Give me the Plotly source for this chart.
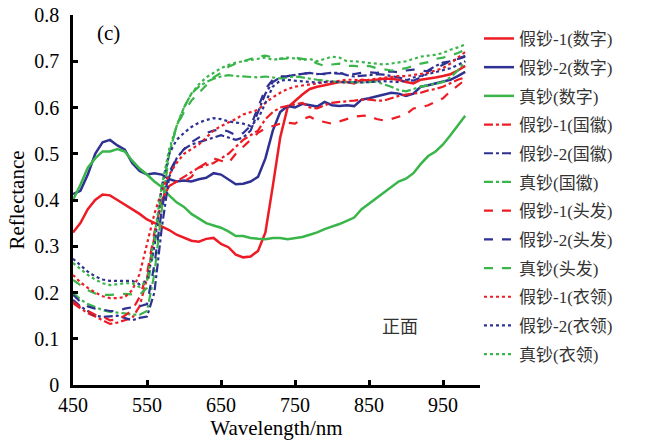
import plotly.graph_objects as go

wavelength = list(range(450, 990, 10))

fake1_digit = [.33, .35, .38, .40, .412, .41, .40, .39, .38, .37, .358, .35, .342, .335, .325, .318, .312, .31, .316, .318,
               .305, .298, .282, .276, .278, .29, .33, .43, .535, .60, .615, .628, .64, .645, .648, .652, .655, .655, .652, .66,
               .658, .66, .662, .662, .66, .655, .652, .66, .662, .665, .668, .672, .68, .69]
fake2_digit = [.413, .42, .455, .50, .525, .53, .518, .509, .48, .463, .455, .458, .455, .445, .44, .442, .44, .445, .448, .458,
               .455, .445, .434, .435, .44, .45, .49, .55, .59, .603, .60, .608, .605, .602, .612, .605, .603, .605, .603, .617,
               .62, .624, .628, .632, .63, .625, .63, .645, .648, .652, .655, .66, .668, .677]
real_digit = [.40, .433, .47, .49, .505, .505, .51, .505, .485, .468, .455, .44, .428, .41, .395, .385, .37, .36, .35, .345,
              .34, .332, .322, .322, .318, .316, .315, .318, .318, .315, .317, .32, .325, .33, .337, .342, .348, .355, .362, .38,
              .392, .405, .418, .43, .44, .446, .458, .478, .495, .505, .52, .54, .56, .582]
fake1_emblem = [.177, .165, .155, .148, .14, .132, .135, .14, .145, .17, .23, .32, .40, .43, .44, .45, .46, .47, .475, .48,
                .49, .50, .515, .53, .54, .55, .575, .59, .60, .603, .607, .61, .60, .598, .605, .61, .612, .613, .615, .617,
                .617, .615, .615, .62, .625, .628, .63, .632, .637, .64, .645, .652, .66, .665]
fake2_emblem = [.184, .17, .16, .15, .147, .148, .15, .145, .14, .145, .148, .20, .34, .45, .49, .51, .52, .525, .53, .535,
                .54, .535, .53, .535, .55, .59, .63, .655, .665, .668, .67, .672, .675, .672, .674, .675, .675, .67, .667, .668,
                .67, .672, .671, .668, .665, .66, .658, .665, .68, .69, .697, .70, .705, .71]
real_emblem = [.20, .185, .175, .168, .162, .158, .157, .155, .152, .152, .16, .24, .38, .50, .56, .60, .63, .645, .655, .662,
               .667, .67, .668, .667, .665, .665, .667, .665, .663, .665, .667, .665, .662, .66, .658, .656, .655, .655, .654, .654,
               .655, .656, .65, .645, .638, .635, .64, .645, .648, .652, .655, .665, .68, .70]
fake1_hair = [.18, .168, .16, .152, .148, .14, .142, .15, .162, .19, .24, .33, .40, .43, .44, .44, .45, .47, .48, .49,
              .485, .48, .50, .515, .53, .545, .555, .56, .565, .567, .565, .575, .58, .572, .568, .565, .57, .575, .58, .582,
              .583, .575, .572, .575, .58, .585, .598, .60, .605, .612, .62, .635, .648, .66]
fake2_hair = [.195, .18, .17, .165, .163, .16, .16, .165, .168, .17, .175, .26, .38, .46, .49, .51, .525, .535, .545, .55,
              .553, .548, .54, .545, .56, .60, .64, .66, .667, .668, .67, .672, .675, .673, .672, .674, .673, .675, .672, .675,
              .676, .675, .677, .678, .676, .68, .682, .68, .678, .685, .693, .70, .705, .712]
real_hair = [.227, .215, .205, .198, .195, .195, .196, .197, .196, .195, .21, .30, .42, .50, .56, .59, .615, .632, .65, .665,
             .675, .688, .695, .70, .705, .71, .712, .708, .705, .706, .708, .705, .703, .695, .69, .693, .695, .69, .69, .688,
             .69, .685, .682, .68, .682, .685, .69, .695, .698, .705, .708, .712, .718, .725]
fake1_collar = [.238, .222, .21, .20, .192, .188, .188, .19, .205, .24, .305, .37, .42, .455, .48, .50, .51, .52, .535, .55,
                .56, .568, .575, .585, .59, .595, .61, .622, .632, .64, .645, .648, .65, .652, .655, .655, .658, .66, .66, .658,
                .66, .662, .665, .667, .668, .668, .67, .672, .675, .68, .685, .695, .708, .72]
fake2_collar = [.273, .258, .245, .235, .228, .225, .225, .226, .225, .218, .225, .30, .43, .50, .53, .545, .558, .567, .573, .577,
                .575, .57, .568, .565, .56, .575, .61, .645, .658, .66, .658, .656, .655, .654, .655, .656, .655, .654, .655, .654,
                .655, .656, .657, .656, .655, .658, .665, .668, .672, .676, .68, .685, .692, .70]
real_collar = [.264, .25, .238, .228, .22, .216, .218, .22, .22, .212, .225, .32, .43, .51, .56, .60, .63, .65, .665, .675,
               .685, .692, .697, .70, .703, .705, .708, .703, .705, .708, .706, .703, .705, .70, .705, .71, .708, .70, .70, .698,
               .697, .695, .693, .695, .697, .70, .705, .71, .712, .714, .718, .725, .73, .736]

series_names = ["假钞-1(数字)", "假钞-2(数字)", "真钞(数字)",
                "假钞-1(国徽)", "假钞-2(国徽)", "真钞(国徽)",
                "假钞-1(头发)", "假钞-2(头发)", "真钞(头发)",
                "假钞-1(衣领)", "假钞-2(衣领)", "真钞(衣领)"]
series_values = [fake1_digit, fake2_digit, real_digit,
                 fake1_emblem, fake2_emblem, real_emblem,
                 fake1_hair, fake2_hair, real_hair,
                 fake1_collar, fake2_collar, real_collar]

RED, BLUE, GREEN = "#ed1c24", "#2e3192", "#39b54a"
colors = [RED, BLUE, GREEN] * 4
dashes = ["solid"] * 3 + ["dashdot"] * 3 + ["dash"] * 3 + ["dot"] * 3
widths = [2.5] * 3 + [2.2] * 9

fig = go.Figure()
for i, (name, vals) in enumerate(zip(series_names, series_values)):
    fig.add_trace(go.Scatter(
        x=wavelength, y=vals, mode="lines", name=name,
        legendgroup=f"g{i}",
        line=dict(color=colors[i], dash=dashes[i], width=widths[i]),
    ))

serif = "Liberation Serif, Times New Roman, Noto Sans CJK SC, serif"
fig.update_layout(
    width=648, height=443,
    margin=dict(l=73, r=168, t=15, b=58, autoexpand=False),
    paper_bgcolor="white", plot_bgcolor="white",
    font=dict(family=serif, size=20, color="black"),
    showlegend=True,
    legend=dict(x=0.9975, y=0.984, xanchor="left", yanchor="top",
                font=dict(family=serif, size=17, color="#333333"),
                tracegroupgap=3.6, bgcolor="rgba(0,0,0,0)", maxheight=1),
    xaxis=dict(range=[450, 1000], tickvals=[450, 550, 650, 750, 850, 950],
               showline=True, linecolor="black", linewidth=2.5, automargin=False,
               ticks="inside", ticklen=5, tickwidth=2.5, tickcolor="black",
               showgrid=False, zeroline=False,
               title=dict(text="Wavelength/nm", standoff=4,
                          font=dict(family=serif, size=21, color="black"))),
    yaxis=dict(range=[0, 0.8], dtick=0.1, tickformat="~g", automargin=False,
               showline=True, linecolor="black", linewidth=2.5,
               ticks="inside", ticklen=5, tickwidth=2.5, tickcolor="black",
               ticklabelstandoff=7,
               showgrid=False, zeroline=False,
               title=dict(text="Reflectance", standoff=4,
                          font=dict(family=serif, size=21, color="black"))),
)
fig.add_annotation(x=0.054, y=0.99, xref="paper", yref="paper", text="(c)",
                   showarrow=False, xanchor="left", yanchor="top",
                   font=dict(family=serif, size=21))
fig.add_annotation(x=892, y=0.13, xref="x", yref="y", text="正面",
                   showarrow=False, xanchor="center",
                   font=dict(family="Noto Sans CJK SC", size=18, color="#333333"))

fig.write_html("out.html", post_script="document.body.style.margin='0';",
               config={"displayModeBar": False})
